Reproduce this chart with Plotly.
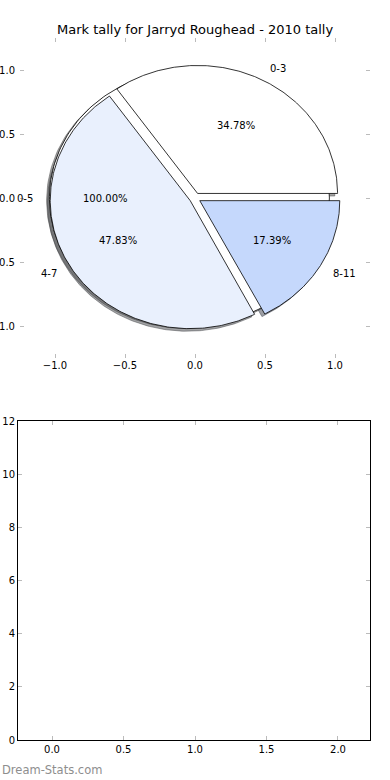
import numpy as np
import plotly.graph_objects as go

# ---- data ----
title = "Mark tally for Jarryd Roughead - 2010 tally"
outer_labels = ["0-5"]
outer_values = [1]
outer_colors = ["#ffffff"]

labels = ["0-3", "4-7", "8-11"]
values = [8, 11, 4]
colors = ["#ffffff", "#e9f0fd", "#c5d8fc"]
explode = [0.04, 0.04, 0.04]
outer_explode = [0.04]

pie_ticks = [-1.0, -0.5, 0.0, 0.5, 1.0]
bottom_xticks = [0.0, 0.5, 1.0, 1.5, 2.0]
bottom_yticks = [0, 2, 4, 6, 8, 10, 12]

FONT = "DejaVu Sans"

fig = go.Figure()
annotations = []


def wedge_path(cx, cy, t1, t2, full=False):
    th = np.radians(np.linspace(t1, t2, 240))
    xs = cx + np.cos(th)
    ys = cy + np.sin(th)
    if full:
        return list(xs), list(ys)
    return [cx] + list(xs) + [cx], [cy] + list(ys) + [cy]


def hex_to_shadow(c):
    c = c.lstrip("#")
    r, g, b = (int(c[i:i + 2], 16) for i in (0, 2, 4))
    return "rgba(%d,%d,%d,0.5)" % (0.3 * r, 0.3 * g, 0.3 * b)


def build_pie(labs, vals, cols, expl):
    total = float(sum(vals))
    fracs = [v / total for v in vals]
    theta1 = 0.0
    wedges = []
    for lab, f, col, ex in zip(labs, fracs, cols, expl):
        theta2 = theta1 + 360.0 * f
        tm = np.radians((theta1 + theta2) / 2)
        cx, cy = ex * np.cos(tm), ex * np.sin(tm)
        full = f >= 0.9999
        wedges.append((lab, f, col, cx, cy, theta1, theta2, tm, full))
        theta1 = theta2
    return wedges


def draw_shadows(wedges):
    for lab, f, col, cx, cy, t1, t2, tm, full in wedges:
        sc = hex_to_shadow(col)
        xs, ys = wedge_path(cx - 0.02, cy - 0.02, t1, t2, full)
        fig.add_trace(go.Scatter(x=xs, y=ys, fill="toself", fillcolor=sc,
                                 line=dict(color=sc, width=1), mode="lines",
                                 hoverinfo="skip", xaxis="x", yaxis="y"))


def draw_wedges(wedges):
    for lab, f, col, cx, cy, t1, t2, tm, full in wedges:
        xs, ys = wedge_path(cx, cy, t1, t2, full)
        fig.add_trace(go.Scatter(x=xs, y=ys, fill="toself", fillcolor=col,
                                 line=dict(color="black", width=0.8), mode="lines",
                                 hoverinfo="skip", xaxis="x", yaxis="y"))
        lx, ly = cx + 1.1 * np.cos(tm), cy + 1.1 * np.sin(tm)
        annotations.append(dict(x=lx, y=ly, xref="x", yref="y", text=lab,
                                showarrow=False,
                                xanchor="left" if lx > 0 else "right",
                                yanchor="middle",
                                font=dict(family=FONT, size=10, color="black")))
        px, py = cx + 0.6 * np.cos(tm), cy + 0.6 * np.sin(tm)
        annotations.append(dict(x=px, y=py, xref="x", yref="y",
                                text="%.2f%%" % (f * 100), showarrow=False,
                                xanchor="center", yanchor="middle",
                                font=dict(family=FONT, size=10, color="black")))


outer = build_pie(outer_labels, outer_values, outer_colors, outer_explode)
inner = build_pie(labels, values, colors, explode)
draw_shadows(outer)
draw_shadows(inner)
draw_wedges(outer)
draw_wedges(inner)

# empty bottom axes
fig.add_trace(go.Scatter(x=[], y=[], xaxis="x2", yaxis="y2", mode="markers"))

annotations.append(dict(x=0.5, y=1 - 30 / 780, xref="paper", yref="paper",
                        text=title, showarrow=False, xanchor="center",
                        yanchor="middle",
                        font=dict(family=FONT, size=13, color="black")))
annotations.append(dict(x=0.0, y=1 - 770 / 780, xref="paper", yref="paper",
                        text="Dream-Stats.com", showarrow=False, xanchor="left",
                        yanchor="middle",
                        font=dict(family=FONT, size=11.5, color="#8e8e8e")))

W, H = 390, 780
tickfont = dict(family=FONT, size=10, color="black")
common = dict(ticks="inside", ticklen=4, tickwidth=1, tickcolor="#bbbbbb",
              mirror="ticks", showgrid=False, zeroline=False, tickfont=tickfont,
              automargin=False, fixedrange=True)
minus_labels = ["\u22121.0", "\u22120.5", "0.0", "0.5", "1.0"]

fig.update_layout(
    width=W, height=H,
    margin=dict(l=0, r=0, t=0, b=0, autoexpand=False),
    paper_bgcolor="white", plot_bgcolor="white",
    showlegend=False, hovermode=False,
    xaxis=dict(domain=[20 / W, 370 / W], range=[-1.25, 1.25], anchor="y",
               tickvals=pie_ticks, ticktext=minus_labels,
               showline=False, **common),
    yaxis=dict(domain=[1 - 358 / H, 1 - 38 / H], range=[-1.25, 1.25], anchor="x",
               tickvals=pie_ticks, ticktext=minus_labels,
               showline=False, ticklabelstandoff=4, **common),
    xaxis2=dict(domain=[18 / W, 370 / W], range=[-0.238, 2.224], anchor="y2",
                tickvals=bottom_xticks, tickformat=".1f",
                showline=True, linecolor="black", linewidth=1, **common),
    yaxis2=dict(domain=[1 - 740 / H, 1 - 421 / H], range=[0, 12], anchor="x2",
                tickvals=bottom_yticks,
                showline=True, linecolor="black", linewidth=1, **common),
    annotations=annotations,
)

fig.write_html("out.html", config=dict(displayModeBar=False),
               post_script="document.body.style.margin='0';"
                           "document.body.style.overflow='hidden';")
